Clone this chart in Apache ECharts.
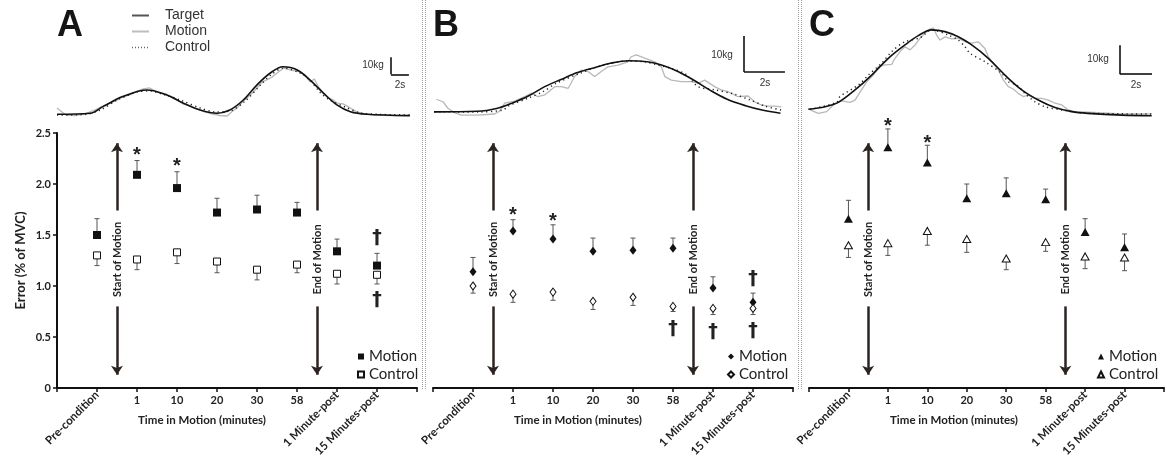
<!DOCTYPE html>
<html><head><meta charset="utf-8">
<script src="https://cdn.jsdelivr.net/npm/echarts@6/dist/echarts.min.js"></script>
<style>html,body{margin:0;padding:0;background:#fff}#c{width:1167px;height:468px}</style>
</head><body><div id="c"></div>
<script>
// ---------- data ----------
const categories = ['Pre-condition','1','10','20','30','58','1 Minute-post','15 Minutes-post'];
const rotatedIdx = [0,6,7];
const yMin = 0, yMax = 2.5, yStep = 0.5;

const motionA     = [1.50,2.09,1.96,1.72,1.75,1.72,1.34,1.20];
const motionAErr  = [0.16,0.14,0.16,0.14,0.14,0.10,0.12,0.12];
const controlA    = [1.30,1.26,1.33,1.24,1.16,1.21,1.12,1.11];
const controlAErr = [0.10,0.10,0.11,0.11,0.10,0.08,0.10,0.09];
const starsA   = [[1,2.33],[2,2.22]];
const daggersA = [[7,1.47],[7,0.86]];

const motionB     = [1.14,1.54,1.46,1.34,1.35,1.37,0.98,0.84];
const motionBErr  = [0.14,0.11,0.14,0.13,0.12,0.10,0.11,0.09];
const controlB    = [1.00,0.92,0.94,0.85,0.89,0.80,0.78,0.78];
const controlBErr = [0.07,0.08,0.08,0.08,0.08,0.05,0.06,0.06];
const starsB   = [[1,1.745],[2,1.68]];
const daggersB = [[5,0.58],[6,0.55],[7,0.56],[7,1.07]];

const motionC     = [1.66,2.36,2.21,1.86,1.91,1.85,1.53,1.38];
const motionCErr  = [0.18,0.18,0.17,0.14,0.15,0.10,0.13,0.13];
const controlC    = [1.40,1.42,1.54,1.46,1.27,1.43,1.29,1.28];
const controlCErr = [0.12,0.12,0.14,0.13,0.11,0.09,0.12,0.13];
const starsC   = [[1,2.61],[2,2.45]];
const daggersC = [];

const phaseX     = [0.5, 5.5];
const phaseNames = ['Start of Motion','End of Motion'];
const arrowUp    = [1.74, 2.40];
const arrowDown  = [0.80, 0.13];
const phaseLabelY = 1.26;

// waveforms [time s, force kg]
const waveTargetA = [[0,1.0],[3.7,1.6],[5.1,5.5],[7.3,11.4],[10.0,15.3],[12.2,12.4],[14.0,7.6],[15.9,3.5],[17.8,1.6],[19.2,3.5],[20.7,9.4],[22.2,18.2],[23.7,25.3],[25.1,29.0],[26.7,27.1],[28.1,21.2],[29.6,13.5],[31.1,6.5],[32.6,2.5],[34.4,1.0],[39.2,0.2]];
const waveMotionA = [[0,4.7],[0.56,2.4],[1.0,0.6],[2.0,0.3],[3.1,1.2],[4.2,3.5],[5.1,5.9],[5.9,7.6],[6.7,9.4],[7.3,11.2],[8.1,12.4],[8.9,14.7],[9.6,15.9],[10.3,16.5],[10.9,14.7],[11.4,13.5],[12.2,12.4],[13.1,10.6],[14.0,7.1],[14.8,5.9],[15.6,4.1],[16.4,2.4],[17.2,1.2],[18.1,0.3],[18.9,0],[19.4,2.4],[20.0,4.7],[20.6,8.2],[21.1,10.6],[21.7,13.5],[22.2,16.5],[22.8,20.0],[23.3,21.2],[23.9,22.9],[24.6,25.9],[25.2,28.2],[25.9,27.1],[26.4,26.5],[27.0,25.9],[27.6,24.1],[28.1,20.0],[28.6,21.8],[29.0,17.6],[29.6,13.5],[30.1,10.6],[30.7,9.4],[31.1,7.6],[31.8,7.1],[32.6,4.7],[33.3,2.4],[34.2,1.2],[35.3,0.6],[37.0,0.3],[39.2,0.3]];
const waveControlA = [[0,0.6],[3.1,0.9],[4.8,3.5],[6.7,9.4],[8.9,14.1],[10.3,14.7],[12.0,12.4],[14.0,8.8],[15.9,4.7],[17.6,2.4],[19.2,2.9],[20.9,8.8],[22.6,18.2],[23.9,24.7],[25.2,28.2],[27.0,25.3],[28.1,21.2],[29.2,14.1],[30.3,9.4],[32.0,5.3],[33.7,1.8],[35.9,0.9],[39.2,0.6]];

const waveTargetB = [[0,0.6],[2.1,0.75],[3.1,1.6],[3.8,3.0],[4.6,5.0],[5.4,7.6],[6.2,9.6],[7.0,11.5],[7.9,13.0],[8.6,14.1],[9.5,14.8],[10.4,14.5],[11.1,13.6],[11.9,11.8],[12.7,9.3],[13.5,6.5],[14.3,4.1],[15.2,2.3],[16.0,1.1],[16.9,0.2]];
const waveMotionB = [[0.11,4.1],[0.44,3.4],[0.68,1.6],[1.0,0.4],[1.33,-0.3],[2.15,-0.3],[2.96,0],[3.2,0.8],[3.45,3.0],[3.94,3.6],[4.42,4.8],[4.75,5.8],[5.07,4.8],[5.4,5.3],[5.89,7.6],[6.21,7.6],[6.54,7.1],[6.86,10.4],[7.19,12.2],[7.51,11.8],[7.84,10.4],[8.16,11.8],[8.49,13.1],[8.98,13.6],[9.46,14.5],[9.62,15.9],[9.87,16.4],[10.28,15.5],[10.77,14.5],[11.09,13.1],[11.26,10.4],[11.58,9.4],[12.06,9.0],[12.55,9.0],[12.88,8.5],[13.2,9.4],[13.69,7.6],[14.01,6.7],[14.34,6.2],[14.83,4.8],[15.32,5.0],[15.64,3.4],[15.97,2.5],[16.29,2.2],[16.62,2.2],[16.94,2.0]];
const waveControlB = [[0.03,0.64],[2.15,0.56],[3.37,1.1],[3.61,2.2],[4.59,4.4],[5.32,6.2],[5.95,8.5],[7.12,11.3],[8.24,13.6],[9.46,14.7],[10.29,14.5],[10.93,13.6],[11.56,12.7],[12.29,11.0],[12.88,7.6],[13.71,6.7],[14.59,5.6],[15.41,3.9],[16.15,2.2],[16.93,1.1]];

const waveTargetC = [[0.02,2.3],[1.06,3.2],[1.89,4.7],[2.94,9.0],[3.98,14.1],[5.02,19.9],[6.06,24.5],[6.89,27.7],[7.73,29.7],[8.56,29.1],[9.39,27.3],[10.23,24.5],[11.27,19.9],[12.31,14.1],[13.36,9.0],[14.39,5.5],[15.44,2.9],[16.48,1.5],[17.52,0.9],[19.61,0.3],[21.48,0.1]];
const waveMotionC = [[0.13,2.1],[0.65,0.9],[1.17,1.5],[1.58,3.8],[2.1,5.2],[2.63,4.7],[2.94,5.5],[3.25,8.2],[3.67,11.8],[4.08,14.1],[4.4,17.0],[4.81,17.6],[5.23,17.8],[5.44,19.9],[5.75,22.2],[6.06,23.9],[6.38,22.8],[6.69,24.5],[7.0,26.8],[7.31,28.5],[7.63,30.0],[7.83,30.4],[8.04,27.9],[8.25,26.2],[8.56,27.3],[8.98,26.6],[9.39,26.8],[9.81,25.6],[10.23,25.1],[10.64,25.6],[11.06,23.3],[11.27,20.4],[11.58,18.2],[11.89,15.9],[12.21,12.4],[12.52,10.1],[12.83,9.3],[13.14,7.8],[13.46,6.7],[13.77,7.2],[14.19,6.1],[14.61,6.1],[15.02,5.5],[15.44,4.4],[15.86,3.8],[16.27,2.1],[16.69,1.5],[17.52,1.3],[19.61,0.7],[21.48,0.7]];
const waveControlC = [[0.13,2.3],[1.79,4.7],[2.0,6.7],[3.15,10.7],[3.77,14.1],[4.6,18.2],[5.23,22.2],[6.06,25.6],[7.0,27.0],[7.73,29.7],[8.77,27.9],[9.39,26.2],[9.81,23.9],[10.13,21.6],[11.06,18.7],[12.1,14.7],[12.52,11.8],[13.04,10.7],[13.56,7.8],[14.19,4.9],[14.81,3.2],[15.86,2.1],[17.52,0.9],[21.48,0.7]];

const scaleSeconds = 2, scaleKg = 10;
const scaleCornerA = [37.1,24.5], scaleCornerB = [15.12,11.7], scaleCornerC = [19.5,14.4];
const waveLegend = ['Target','Motion','Control'];

// ---------- layout ----------
const INK = '#111', ARROW = '#2b2522', ERR = '#555';
const FONT = 'Lato, "Open Sans", sans-serif';
const ARIAL = '"Liberation Sans", Arial, sans-serif';
const panels = [
  {key:'A', left:57, motion:motionA, mErr:motionAErr, control:controlA, cErr:controlAErr, stars:starsA, daggers:daggersA, sym:'rect', sz:8, osz:7, legLeft:352, showY:true,
   wave:{t:waveTargetA,m:waveMotionA,c:waveControlA,left:57,w:352.8,top:54.8,h:64.6,xmax:39.2,ymin:-2,ymax:36,corner:scaleCornerA}},
  {key:'B', left:433, motion:motionB, mErr:motionBErr, control:controlB, cErr:controlBErr, stars:starsB, daggers:daggersB, sym:'diamond', sz:[7,9], osz:[6,8], legLeft:722, showY:false,
   wave:{t:waveTargetB,m:waveMotionB,c:waveControlB,left:434,w:352.6,top:34.8,h:82.8,xmax:17.2,ymin:-1,ymax:22,corner:scaleCornerB}},
  {key:'C', left:809, motion:motionC, mErr:motionCErr, control:controlC, cErr:controlCErr, stars:starsC, daggers:daggersC, sym:'triangle', sz:[9,8], osz:[8,7], legLeft:1092, showY:false,
   wave:{t:waveTargetC,m:waveMotionC,c:waveControlC,left:808,w:344,top:23.2,h:95.7,xmax:21.5,ymin:-1,ymax:32,corner:scaleCornerC}}
];

const grid=[], xAxis=[], yAxis=[], series=[], legend=[];
function textSeries(xi, yi, pts, txt, font, dy, rot){
  return {type:'custom', xAxisIndex:xi, yAxisIndex:yi, silent:true, z:6, clip:false,
    data: pts,
    renderItem:(p, api)=>{
      const c = api.coord([api.value(0), api.value(1)]);
      return {type:'text', x:c[0], y:c[1]+(dy||0), rotation:rot||0,
        style:{text: typeof txt==='function'? txt(p.dataIndex): txt, font:font, fill:'#222', align:'center', verticalAlign:'middle'}};
    }};
}
function errSeries(xi, yi, vals, errs, dir){
  return {type:'custom', xAxisIndex:xi, yAxisIndex:yi, silent:true, z:1,
    data: vals.map((v,i)=>[i, v, errs[i]]),
    renderItem:(p, api)=>{
      const x=api.value(0), y=api.value(1), e=api.value(2);
      const a=api.coord([x,y]), b=api.coord([x,y+dir*e]);
      return {type:'group', children:[
        {type:'line', shape:{x1:a[0],y1:a[1],x2:b[0],y2:b[1]}, style:{stroke:ERR,lineWidth:1}},
        {type:'line', shape:{x1:b[0]-2.5,y1:b[1],x2:b[0]+2.5,y2:b[1]}, style:{stroke:ERR,lineWidth:1}}
      ]};
    }};
}

panels.forEach((P, k)=>{
  const gi = grid.length;
  grid.push({left:P.left, top:133, width:360, height:255});
  const xi = xAxis.length;
  xAxis.push({type:'value', gridIndex:gi, min:-1, max:8, interval:1, position:'bottom',
    axisLine:{show:true, onZero:false, lineStyle:{color:INK, width:2}},
    axisTick:{show:true, length:4, lineStyle:{color:INK, width:1.5}},
    splitLine:{show:false},
    axisLabel:{margin:7, fontFamily:FONT, fontWeight:'bold', fontSize:11, color:'#222',
      formatter:v=> (Number.isInteger(v) && v>=0 && v<categories.length && rotatedIdx.indexOf(v)<0) ? categories[v] : ''}});
  xAxis.push({type:'value', gridIndex:gi, min:-1, max:8, interval:1, position:'bottom', offset:0,
    axisLine:{show:false, onZero:false}, axisTick:{show:false}, splitLine:{show:false},
    axisLabel:{margin:5, rotate:45, fontFamily:FONT, fontWeight:'bold', fontSize:11.5, color:'#222',
      formatter:v=> (Number.isInteger(v) && rotatedIdx.indexOf(v)>=0) ? categories[v] : ''}});
  const yi = yAxis.length;
  yAxis.push({type:'value', gridIndex:gi, min:yMin, max:yMax, interval:yStep, show:P.showY, position:'left',
    name: P.showY ? 'Error (% of MVC)' : '', nameLocation:'middle', nameGap:30,
    nameTextStyle:{fontFamily:FONT, fontWeight:'bold', fontSize:13, color:'#222'},
    axisLine:{show:true, onZero:false, lineStyle:{color:INK, width:2}},
    axisTick:{show:true, length:4, lineStyle:{color:INK, width:1.5}},
    splitLine:{show:false},
    axisLabel:{margin:6, fontFamily:FONT, fontWeight:'bold', fontSize:11, color:'#222',
      formatter:v=> v===0 ? '0' : v.toFixed(1)}});

  series.push(errSeries(xi, yi, P.motion, P.mErr, 1));
  series.push(errSeries(xi, yi, P.control, P.cErr, -1));
  const arrowLines = [];
  phaseX.forEach(x=>{
    arrowLines.push([{coord:[x,arrowUp[0]]},{coord:[x,arrowUp[1]]}]);
    arrowLines.push([{coord:[x,arrowDown[0]]},{coord:[x,arrowDown[1]]}]);
  });
  series.push({type:'scatter', name:P.key+'|Motion', xAxisIndex:xi, yAxisIndex:yi, z:4,
    symbol:P.sym, symbolSize:P.sz, itemStyle:{color:INK, opacity:1},
    data:P.motion.map((v,i)=>[i,v]),
    markLine:{silent:true, symbol:['none','arrow'], symbolSize:9, animation:false,
      label:{show:false}, lineStyle:{type:'solid', color:ARROW, width:2.5, opacity:1},
      itemStyle:{color:ARROW},
      emphasis:{disabled:true}, data:arrowLines}});
  series.push({type:'scatter', name:P.key+'|Control', xAxisIndex:xi, yAxisIndex:yi, z:4,
    symbol:P.sym, symbolSize:P.osz, itemStyle:{color:'#fff', borderColor:INK, borderWidth:1, opacity:1},
    data:P.control.map((v,i)=>[i,v])});
  series.push(textSeries(xi, yi, P.stars, '*', 'bold 20px '+ARIAL, 5));
  if (P.daggers.length) series.push(textSeries(xi, yi, P.daggers, '\u2020', 'bold 19px "DejaVu Sans", sans-serif', 0));
  series.push(textSeries(xi, yi, phaseX.map(x=>[x, phaseLabelY]), i=>phaseNames[i], 'bold 11px '+FONT, 0, Math.PI/2));

  legend.push({orient:'vertical', left:P.legLeft, top:344, itemWidth:6, itemHeight:6, itemGap:3,
    selectedMode:false, data:[P.key+'|Motion', P.key+'|Control'],
    formatter:n=>n.split('|')[1],
    textStyle:{fontFamily:FONT, fontSize:15, color:'#222'}});

  // waveform panel
  const W = P.wave;
  const wg = grid.length;
  grid.push({left:W.left, top:W.top, width:W.w, height:W.h});
  const wx = xAxis.length;
  xAxis.push({type:'value', gridIndex:wg, min:0, max:W.xmax, show:false});
  const wy = yAxis.length;
  yAxis.push({type:'value', gridIndex:wg, min:W.ymin, max:W.ymax, show:false});
  const c0 = W.corner;
  series.push({type:'line', name:'W'+P.key+'|Motion', xAxisIndex:wx, yAxisIndex:wy, data:W.m, symbol:'none', z:1,
    itemStyle:{color:'#b8b8b8'}, lineStyle:{color:'#b8b8b8', width:1.3}});
  series.push({type:'line', name:'W'+P.key+'|Control', xAxisIndex:wx, yAxisIndex:wy, data:W.c, symbol:'none', smooth:0.3, z:2,
    itemStyle:{color:'#222'}, lineStyle:{color:'#222', width:1.5, type:[1.2,3.5]}});
  series.push({type:'line', name:'W'+P.key+'|Target', xAxisIndex:wx, yAxisIndex:wy, data:W.t, symbol:'none', smooth:0.35, z:3,
    itemStyle:{color:'#111'}, lineStyle:{color:'#111', width:1.6},
    markLine:{silent:true, symbol:'none', animation:false, label:{show:false}, emphasis:{disabled:true},
      lineStyle:{type:'solid', color:'#111', width:1.6},
      data:[[{coord:[c0[0],c0[1]]},{coord:[c0[0]+scaleSeconds,c0[1]]}],
            [{coord:[c0[0],c0[1]]},{coord:[c0[0],c0[1]+scaleKg]}]]}});
});

const graphic = [];
// waveform key (top of panel A)
const keyStyles = [{stroke:'#555', lineWidth:2}, {stroke:'#bdbdbd', lineWidth:2}, {stroke:'#666', lineWidth:1.3, lineDash:[1,2]}];
waveLegend.forEach((t,i)=>{
  const y = 15.5 + i*16;
  graphic.push({type:'line', shape:{x1:132,y1:y,x2:149,y2:y}, style:keyStyles[i]});
  graphic.push({type:'text', x:165, y:y, style:{text:t, font:'14px '+ARIAL, fill:'#333', verticalAlign:'middle'}});
});
[['A',57],['B',433],['C',809]].forEach(([t,x])=>graphic.push({type:'text', left:x, top:8,
  style:{text:t, font:'bold 36px '+ARIAL, fill:'#151515'}}));
[[373,65,'10kg'],[400,85,'2s'],[722,55,'10kg'],[765,83,'2s'],[1098,59,'10kg'],[1136,85,'2s']].forEach(([x,y,t])=>
  graphic.push({type:'text', x:x, y:y, style:{text:t, font:'10px '+ARIAL, fill:'#333', align:'center', verticalAlign:'middle'}}));
[202,578,954].forEach(x=>graphic.push({type:'text', x:x, y:420,
  style:{text:'Time in Motion (minutes)', font:'bold 11.5px '+FONT, fill:'#222', align:'center', verticalAlign:'middle'}}));
[422.5,425.5,798.5,801.5].forEach(x=>graphic.push({type:'line', shape:{x1:x,y1:0,x2:x,y2:389},
  style:{stroke:'#9a9a9a', lineWidth:1, lineDash:[1,1]}}));

const chart = echarts.init(document.getElementById('c'), null, {renderer:'canvas'});
chart.setOption({animation:false, backgroundColor:'#fff', grid, xAxis, yAxis, series, legend, graphic});
</script></body></html>
